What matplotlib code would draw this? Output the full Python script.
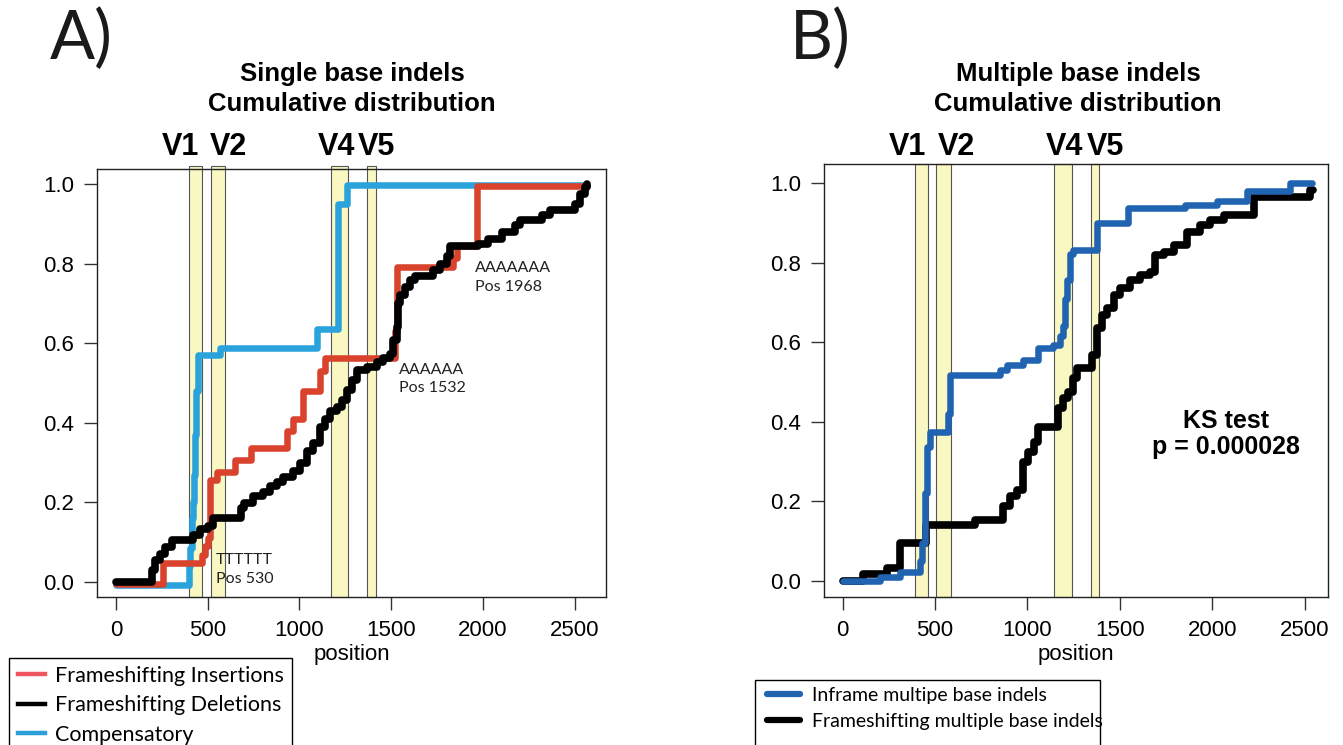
import numpy as np
import matplotlib.pyplot as plt
from matplotlib.lines import Line2D
from matplotlib.patches import Rectangle
from matplotlib.transforms import blended_transform_factory

W, H = 1343, 745

# variable regions (start, end) in position units
bands_a = [(399, 470), (516, 594), (1170, 1266), (1366, 1417)]
bands_b = [(391, 464), (504, 587), (1146, 1244), (1343, 1390)]
region_names = ['V1', 'V2', 'V4', 'V5']
region_label_x = [350, 615, 1200, 1422]

# panel A: single base indels (step positions / cumulative fraction)
comp_x = [0, 400, 405, 412, 418, 425, 432, 438, 445, 567, 1094, 1211, 1257, 2566]
comp_y = [-0.008, 0.04, 0.085, 0.16, 0.2, 0.27, 0.37, 0.48, 0.57, 0.587, 0.636, 0.951, 0.997, 0.997]

ins_x = [0, 258, 467, 485, 503, 513, 549, 649, 737, 930, 966, 1021, 1112, 1139,
         1522, 1530, 1838, 1856, 1966, 2566]
ins_y = [-0.004, 0.047, 0.068, 0.09, 0.11, 0.256, 0.277, 0.307, 0.336, 0.38, 0.41,
         0.48, 0.53, 0.562, 0.63, 0.792, 0.813, 0.843, 0.995, 0.995]

del_x = [0, 194, 212, 240, 267, 303, 421, 458, 500, 530, 680, 700, 748, 803, 839, 875,
         912, 966, 1003, 1039, 1075, 1112, 1139, 1166, 1203, 1230, 1257, 1285, 1312,
         1366, 1421, 1457, 1494, 1512, 1530, 1539, 1548, 1576, 1603, 1630, 1729, 1766,
         1803, 1821, 1974, 2028, 2101, 2174, 2201, 2319, 2365, 2501, 2529, 2556, 2566]
del_y = [0, 0.03, 0.055, 0.071, 0.088, 0.105, 0.117, 0.134, 0.14, 0.16, 0.185, 0.198,
         0.215, 0.227, 0.24, 0.252, 0.265, 0.28, 0.30, 0.33, 0.35, 0.39, 0.41, 0.43,
         0.44, 0.457, 0.482, 0.507, 0.532, 0.541, 0.553, 0.562, 0.574, 0.607, 0.64,
         0.70, 0.72, 0.74, 0.76, 0.77, 0.783, 0.80, 0.82, 0.843, 0.85, 0.863, 0.88,
         0.897, 0.909, 0.922, 0.934, 0.951, 0.976, 0.993, 1.0]

# panel B: multiple base indels
infr_x = [0, 202, 310, 419, 428, 446, 455, 473, 572, 581, 852, 888, 978, 1060, 1141,
          1177, 1195, 1204, 1213, 1231, 1249, 1376, 1547, 1854, 2026, 2188, 2423, 2540]
infr_y = [0, 0.01, 0.023, 0.05, 0.094, 0.22, 0.337, 0.375, 0.42, 0.518, 0.53, 0.543,
          0.555, 0.585, 0.594, 0.615, 0.64, 0.71, 0.757, 0.823, 0.832, 0.90, 0.937,
          0.945, 0.957, 0.98, 1.0, 1.0]

fsm_x = [0, 112, 238, 310, 449, 717, 870, 906, 942, 978, 1005, 1033, 1060, 1168, 1195,
         1222, 1249, 1267, 1349, 1376, 1404, 1431, 1467, 1502, 1557, 1611, 1665, 1692,
         1737, 1791, 1863, 1936, 1990, 2062, 2224, 2531, 2545]
fsm_y = [0, 0.018, 0.031, 0.094, 0.14, 0.153, 0.187, 0.212, 0.229, 0.30, 0.325, 0.35,
         0.388, 0.434, 0.46, 0.476, 0.51, 0.535, 0.568, 0.635, 0.669, 0.686, 0.72,
         0.736, 0.757, 0.77, 0.778, 0.82, 0.828, 0.845, 0.879, 0.895, 0.908, 0.92,
         0.967, 0.983, 0.983]

xticks = [0, 500, 1000, 1500, 2000, 2500]
yticks = [0.0, 0.2, 0.4, 0.6, 0.8, 1.0]

RFONT = 'Liberation Sans'
MFONT = 'Lato'
RED = '#d9422c'
LBLUE = '#2aa3dc'
DBLUE = '#1f63b1'
BAND = '#faf8c2'


def fx(x):
    return x / W


def fy(y):
    return 1 - y / H


fig = plt.figure(figsize=(W / 100, H / 100), dpi=100)
axA = fig.add_axes([fx(97), fy(597), fx(606) - fx(97), fy(169) - fy(597)])
axB = fig.add_axes([fx(824), fy(597), fx(1328) - fx(824), fy(164) - fy(597)])


def style(ax, xlim, ylim):
    ax.set_xlim(*xlim)
    ax.set_ylim(*ylim)
    ax.set_xticks(xticks)
    ax.set_yticks(yticks)
    ax.set_yticklabels(['%.1f' % v for v in yticks])
    ax.tick_params(direction='out', length=9.5, width=1, labelsize=16, pad=7,
                   color='#333333')
    for lab in ax.get_xticklabels() + ax.get_yticklabels():
        lab.set_family(RFONT)
    for s in ax.spines.values():
        s.set_linewidth(1.0)
        s.set_color('#222222')
    ax.set_xlabel('position', family=RFONT, fontsize=16, labelpad=2)


def draw_bands(ax, bands, top):
    for a, b in bands:
        ax.axvspan(a, b, ymin=0, ymax=top, facecolor=BAND, edgecolor='#555555',
                   lw=0.8, clip_on=False, zorder=1)


step_kw = dict(where='post', solid_capstyle='round', solid_joinstyle='round')

# ---- panel A
style(axA, (-103, 2670), (-0.0377, 1.0377))
draw_bands(axA, bands_a, 1.008)
axA.step(comp_x, comp_y, color=LBLUE, lw=4.7, zorder=3, **step_kw)
axA.step(ins_x, ins_y, color=RED, lw=4.7, zorder=4, **step_kw)
axA.step(del_x, del_y, color='black', lw=5.5, zorder=5, **step_kw)

ann = [(545, 0.032, 'TTTTTT\nPos 530'),
       (1542, 0.510, 'AAAAAA\nPos 1532'),
       (1956, 0.764, 'AAAAAAA\nPos 1968')]
for x, y, s in ann:
    axA.text(x, y, s, family=MFONT, fontsize=11.5, ha='left', va='center',
             linespacing=1.45, color='#222222', zorder=6)

# ---- panel B
style(axB, (-101, 2627), (-0.041, 1.049))
draw_bands(axB, bands_b, 1.0)
axB.step(fsm_x, fsm_y, color='black', lw=5.5, zorder=3, **step_kw)
axB.step(infr_x, infr_y, color=DBLUE, lw=4.7, zorder=4, **step_kw)
axB.text(2076, 0.37, 'KS test\np = 0.000028', family=RFONT, fontweight='bold',
         fontsize=18, ha='center', va='center', linespacing=1.1)

# region labels and titles
for ax, cx, t1, t2, tag, tagx in [
        (axA, 352, 'Single base indels', 'Cumulative distribution', 'A)', 50),
        (axB, 1078, 'Multiple base indels', 'Cumulative distribution', 'B)', 790)]:
    tr = blended_transform_factory(ax.transData, fig.transFigure)
    for name, x in zip(region_names, region_label_x):
        ax.text(x, fy(155), name, transform=tr, ha='center', va='baseline',
                family=RFONT, fontweight='bold', fontsize=22)
    fig.text(fx(cx), fy(81), t1, ha='center', va='baseline', family=RFONT,
             fontweight='bold', fontsize=18.5)
    fig.text(fx(cx), fy(111), t2, ha='center', va='baseline', family=RFONT,
             fontweight='bold', fontsize=18.5)
    fig.text(fx(tagx), fy(59), tag, ha='left', va='baseline', family=MFONT,
             fontweight='normal', fontsize=48, color='#1a1a1a')

# legends (frames run past the bottom edge of the figure)
fig.patches.append(Rectangle((fx(9), fy(770)), fx(292) - fx(9), fy(658) - fy(770),
                             transform=fig.transFigure, fill=False, lw=1.0,
                             edgecolor='black'))
fig.patches.append(Rectangle((fx(755), fy(770)), fx(1100) - fx(755), fy(680) - fy(770),
                             transform=fig.transFigure, fill=False, lw=1.0,
                             edgecolor='black'))

hA = [Line2D([], [], color='#ee5560', lw=3.2),
      Line2D([], [], color='black', lw=3.2),
      Line2D([], [], color='#2a9fd8', lw=3.2)]
fig.legend(hA, ['Frameshifting Insertions', 'Frameshifting Deletions', 'Compensatory'],
           loc='upper left', bbox_to_anchor=(fx(18), fy(666)), borderaxespad=0,
           prop={'family': MFONT, 'size': 15.5}, frameon=False, borderpad=0,
           labelspacing=0.44, handlelength=1.26, handletextpad=0.47)

hB = [Line2D([], [], color=DBLUE, lw=4.5, solid_capstyle='round'),
      Line2D([], [], color='black', lw=4.5, solid_capstyle='round')]
fig.legend(hB, ['Inframe multipe base indels', 'Frameshifting multiple base indels'],
           loc='upper left', bbox_to_anchor=(fx(767), fy(687)), borderaxespad=0,
           prop={'family': MFONT, 'size': 14}, frameon=False, borderpad=0,
           labelspacing=0.45, handlelength=1.7, handletextpad=0.6)

fig.savefig('out.png', dpi=100)
